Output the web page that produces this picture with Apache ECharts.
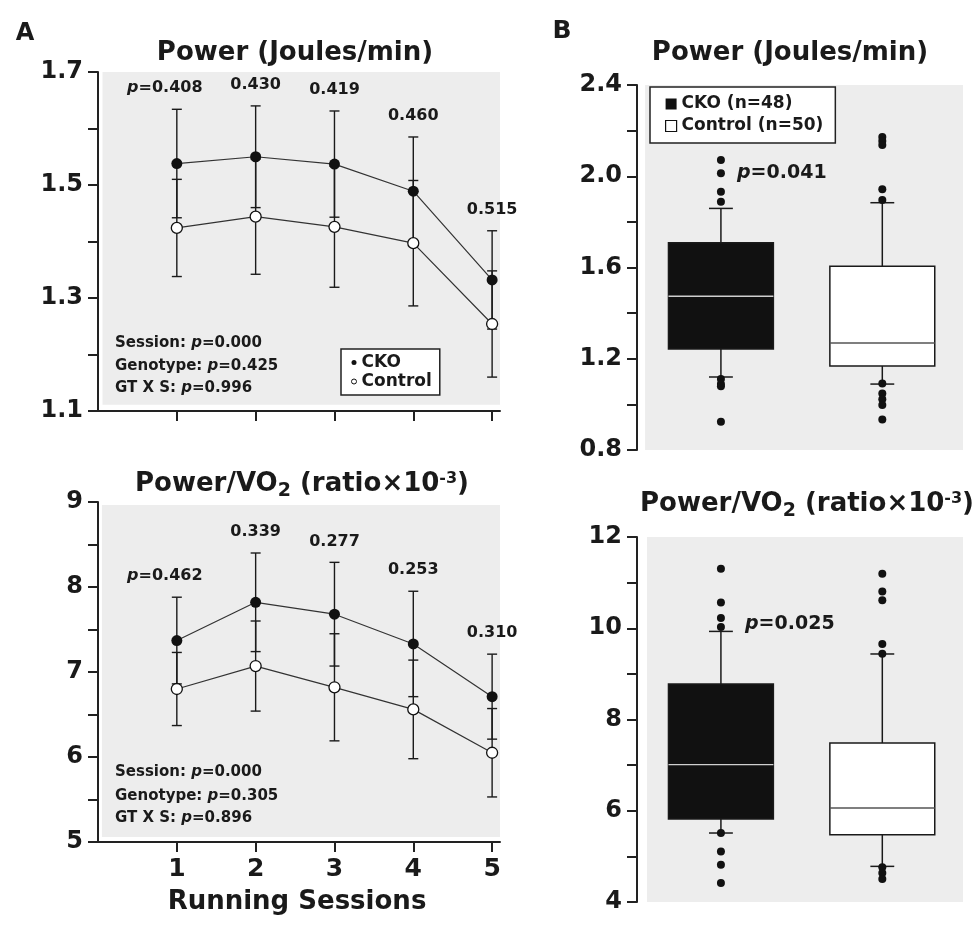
<!DOCTYPE html>
<html>
<head>
<meta charset="utf-8">
<script src="https://cdn.jsdelivr.net/npm/echarts@6/dist/echarts.min.js"></script>
<style>
  html, body { margin: 0; background: #fff; }
  #chart { width: 975px; height: 929px; }
</style>
</head>
<body>
<div id="chart"></div>
<script>
// ---- panel A data (mean and error per running session) ----
var sessions = [1, 2, 3, 4, 5];
var powerCko = [1.538, 1.550, 1.537, 1.489, 1.332];
var powerCkoErr = [0.096, 0.090, 0.094, 0.096, 0.087];
var powerCtrl = [1.424, 1.444, 1.426, 1.397, 1.254];
var powerCtrlErr = [0.086, 0.102, 0.107, 0.111, 0.094];
var powerP = ['0.408', '0.430', '0.419', '0.460', '0.515'];
var powerStats = ['Session: {i|p}=0.000', 'Genotype: {i|p}=0.425', 'GT X S: {i|p}=0.996'];

var ratioCko = [7.37, 7.82, 7.68, 7.33, 6.71];
var ratioCkoErr = [0.51, 0.58, 0.61, 0.62, 0.50];
var ratioCtrl = [6.80, 7.07, 6.82, 6.56, 6.05];
var ratioCtrlErr = [0.43, 0.53, 0.63, 0.58, 0.52];
var ratioP = ['0.462', '0.339', '0.277', '0.253', '0.310'];
var ratioStats = ['Session: {i|p}=0.000', 'Genotype: {i|p}=0.305', 'GT X S: {i|p}=0.896'];

// ---- panel B data: [low whisker, q1, median, q3, high whisker] ----
var boxPowerCko = [1.120, 1.243, 1.474, 1.709, 1.859];
var boxPowerCtrl = [1.089, 1.168, 1.269, 1.605, 1.884];
var outPowerCko = [2.071, 2.013, 1.932, 1.888, 1.111, 1.089, 1.080, 0.924];
var outPowerCtrl = [2.172, 2.154, 2.137, 1.943, 1.896, 1.092, 1.048, 1.022, 0.997, 0.934];
var boxRatioCko = [5.512, 5.819, 7.010, 8.778, 9.931];
var boxRatioCtrl = [4.781, 5.475, 6.060, 7.485, 9.436];
var outRatioCko = [11.305, 10.567, 10.224, 10.027, 5.51, 5.109, 4.818, 4.416];
var outRatioCtrl = [11.196, 10.808, 10.611, 9.655, 9.44, 4.759, 4.636, 4.504];

// ---- tick values and labels ----
var powerTicks = [1.1, 1.2, 1.3, 1.4, 1.5, 1.6, 1.7];
var powerLabels = [1.1, 1.3, 1.5, 1.7];
var ratioTicks = [5, 5.5, 6, 6.5, 7, 7.5, 8, 8.5, 9];
var ratioLabels = [5, 6, 7, 8, 9];
var boxPowerTicks = [0.8, 1.0, 1.2, 1.4, 1.6, 1.8, 2.0, 2.2, 2.4];
var boxPowerLabels = [0.8, 1.2, 1.6, 2.0, 2.4];
var boxRatioTicks = [4, 5, 6, 7, 8, 9, 10, 11, 12];
var boxRatioLabels = [4, 6, 8, 10, 12];

var FONT = '"DejaVu Sans"';
var INK = '#1a1a1a';
var GRAY = '#ededed';

function bold(size) { return 'bold ' + size + 'px ' + FONT; }
function italic(size) { return 'italic bold ' + size + 'px ' + FONT; }

function yAxisOf(grid, min, max, ticks, labels, digits) {
  return {
    type: 'value', gridIndex: grid, min: min, max: max,
    axisLine: { show: true, onZero: false, lineStyle: { color: '#222', width: 2 } },
    axisTick: { show: true, length: 10, customValues: ticks, lineStyle: { color: '#222', width: 2 } },
    axisLabel: {
      customValues: labels, margin: 15, color: INK,
      fontFamily: FONT, fontWeight: 'bold', fontSize: 24,
      formatter: function (v) { return v.toFixed(digits); }
    },
    splitLine: { show: false }
  };
}

function xAxisOf(grid, showLabels) {
  return {
    type: 'value', gridIndex: grid, min: 0, max: 5.1,
    axisLine: { show: true, onZero: false, lineStyle: { color: '#222', width: 2 } },
    axisTick: { show: true, length: 10, customValues: sessions, lineStyle: { color: '#222', width: 2 } },
    axisLabel: {
      show: showLabels, customValues: sessions, margin: 15, color: INK,
      fontFamily: FONT, fontWeight: 'bold', fontSize: 25
    },
    splitLine: { show: false }
  };
}

function grayArea(x0, y0, x1, y1) {
  return {
    silent: true,
    label: { show: false },
    itemStyle: { color: GRAY },
    data: [[{ xAxis: x0, yAxis: y0 }, { xAxis: x1, yAxis: y1 }]]
  };
}

function lineSeries(name, grid, values, filled, area) {
  var s = {
    name: name, type: 'line', xAxisIndex: grid, yAxisIndex: grid, z: 4,
    data: sessions.map(function (x, i) { return [x, values[i]]; }),
    symbol: 'circle', symbolSize: 11,
    lineStyle: { color: '#333', width: 1.2 },
    itemStyle: filled ? { color: '#111' } : { color: '#fff', borderColor: '#111', borderWidth: 1.3 }
  };
  if (area) s.markArea = area;
  return s;
}

function errorSeries(grid, values, errs, pLabels) {
  return {
    type: 'custom', xAxisIndex: grid, yAxisIndex: grid, z: 3, silent: true,
    encode: { x: 0, y: [1, 2] },
    data: sessions.map(function (x, i) { return [x, values[i] - errs[i], values[i] + errs[i]]; }),
    renderItem: function (params, api) {
      var x = api.value(0);
      var lo = api.coord([x, api.value(1)]);
      var hi = api.coord([x, api.value(2)]);
      var cap = 5;
      function seg(x1, y1, x2, y2) {
        return { type: 'line', shape: { x1: x1, y1: y1, x2: x2, y2: y2 }, style: { stroke: INK, lineWidth: 1.4 } };
      }
      var kids = [
        seg(lo[0], lo[1], hi[0], hi[1]),
        seg(lo[0] - cap, lo[1], lo[0] + cap, lo[1]),
        seg(hi[0] - cap, hi[1], hi[0] + cap, hi[1])
      ];
      if (pLabels) {
        var i = params.dataIndex;
        kids.push({
          type: 'text',
          style: {
            text: i === 0 ? '{i|p}=' + pLabels[i] : pLabels[i],
            x: hi[0] - (i === 0 ? 12 : 0), y: hi[1] - 21,
            align: 'center', verticalAlign: 'middle',
            font: bold(16), fill: INK,
            rich: { i: { font: italic(16), fill: INK } }
          }
        });
      }
      return { type: 'group', children: kids };
    }
  };
}

function boxSeries(name, grid, x, stats, fill, medianColor) {
  return {
    name: name, type: 'custom', xAxisIndex: grid, yAxisIndex: grid, z: 2, silent: true,
    encode: { x: 0, y: [1, 2, 3, 4, 5] },
    itemStyle: { color: fill },
    data: [[x].concat(stats)],
    renderItem: function (params, api) {
      var cx = api.value(0);
      var lo = api.coord([cx, api.value(1)]);
      var q1 = api.coord([cx, api.value(2)]);
      var md = api.coord([cx, api.value(3)]);
      var q3 = api.coord([cx, api.value(4)]);
      var hi = api.coord([cx, api.value(5)]);
      var hw = api.size([0.325, 0])[0];
      var cw = api.size([0.074, 0])[0];
      function seg(x1, y1, x2, y2, color, w) {
        return { type: 'line', shape: { x1: x1, y1: y1, x2: x2, y2: y2 }, style: { stroke: color, lineWidth: w } };
      }
      return {
        type: 'group',
        children: [
          seg(q3[0], q3[1], hi[0], hi[1], INK, 1.5),
          seg(q1[0], q1[1], lo[0], lo[1], INK, 1.5),
          seg(hi[0] - cw, hi[1], hi[0] + cw, hi[1], INK, 1.5),
          seg(lo[0] - cw, lo[1], lo[0] + cw, lo[1], INK, 1.5),
          {
            type: 'rect',
            shape: { x: q3[0] - hw, y: q3[1], width: hw * 2, height: q1[1] - q3[1] },
            style: { fill: fill, stroke: INK, lineWidth: 1.5 }
          },
          seg(md[0] - hw, md[1], md[0] + hw, md[1], medianColor, 1.3)
        ]
      };
    }
  };
}

function outlierSeries(grid, x, values, area) {
  var s = {
    type: 'scatter', xAxisIndex: grid, yAxisIndex: grid, z: 4, silent: true,
    symbolSize: 8, itemStyle: { color: '#111', opacity: 1 },
    data: values.map(function (v) { return [x, v]; })
  };
  if (area) s.markArea = area;
  return s;
}

function label(text, x, y, size, align) {
  return {
    type: 'text', x: x, y: y, z: 100, silent: true,
    style: {
      text: text, align: align || 'center', verticalAlign: 'middle',
      font: bold(size), fill: INK,
      rich: { i: { font: italic(size), fill: INK } }
    }
  };
}

function ratioTitle(x, y) {
  return {
    type: 'text', x: x, y: y, z: 100, silent: true,
    style: {
      text: 'Power/VO{sub|2} (ratio×10{sup|-3})',
      align: 'center', verticalAlign: 'middle',
      font: bold(26), fill: INK,
      rich: {
        sub: { font: bold(19), fill: INK, padding: [15, 0, 0, 0] },
        sup: { font: bold(16), fill: INK, padding: [0, 0, 11, 0] }
      }
    }
  };
}

var texts = [
  label('A', 25, 34, 24),
  label('B', 562, 31, 25),
  label('Power (Joules/min)', 295, 53, 26),
  label('Power (Joules/min)', 790, 53, 26),
  ratioTitle(302, 484),
  ratioTitle(807, 504),
  label('Running Sessions', 297, 902, 26),
  label('{i|p}=0.041', 737, 173, 19, 'left'),
  label('{i|p}=0.025', 745, 624, 19, 'left')
];
[343, 366, 388].forEach(function (y, i) { texts.push(label(powerStats[i], 115, y, 15, 'left')); });
[772, 796, 818].forEach(function (y, i) { texts.push(label(ratioStats[i], 115, y, 15, 'left')); });

var option = {
  animation: false,
  backgroundColor: '#fff',
  grid: [
    { left: 98, top: 72, width: 402, height: 339 },
    { left: 98, top: 502, width: 402, height: 340 },
    { left: 637, top: 85, width: 326, height: 365 },
    { left: 637, top: 537, width: 326, height: 365 }
  ],
  xAxis: [
    xAxisOf(0, false),
    xAxisOf(1, true),
    { type: 'value', gridIndex: 2, min: 0.48, max: 2.5, show: false, splitLine: { show: false } },
    { type: 'value', gridIndex: 3, min: 0.48, max: 2.5, show: false, splitLine: { show: false } }
  ],
  yAxis: [
    yAxisOf(0, 1.1, 1.7, powerTicks, powerLabels, 1),
    yAxisOf(1, 5, 9, ratioTicks, ratioLabels, 0),
    yAxisOf(2, 0.8, 2.4, boxPowerTicks, boxPowerLabels, 1),
    yAxisOf(3, 4, 12, boxRatioTicks, boxRatioLabels, 0)
  ],
  legend: [
    {
      left: 341, top: 349, orient: 'vertical', selectedMode: false, z: 50,
      backgroundColor: '#fff', borderColor: '#222', borderWidth: 1.5,
      padding: [4, 8, 4, 10], itemGap: 0, itemWidth: 5, itemHeight: 5,
      textStyle: { fontFamily: FONT, fontWeight: 'bold', fontSize: 17, color: INK, lineHeight: 19 },
      data: [
        { name: 'CKO', icon: 'circle', itemStyle: { color: '#111', borderWidth: 0 } },
        { name: 'Control', icon: 'circle', itemStyle: { color: '#fff', borderColor: '#111', borderWidth: 1 } }
      ]
    },
    {
      left: 650, top: 87, orient: 'vertical', selectedMode: false, z: 50,
      backgroundColor: '#fff', borderColor: '#222', borderWidth: 1.5,
      padding: [6, 12, 6, 15], itemGap: 0, itemWidth: 11, itemHeight: 11,
      textStyle: { fontFamily: FONT, fontWeight: 'bold', fontSize: 17, color: INK, lineHeight: 22 },
      data: [
        { name: 'CKO (n=48)', icon: 'rect', itemStyle: { color: '#111', borderWidth: 0 } },
        { name: 'Control (n=50)', icon: 'rect', itemStyle: { color: '#fff', borderColor: '#111', borderWidth: 1.2 } }
      ]
    }
  ],
  graphic: { elements: texts },
  series: [
    lineSeries('CKO', 0, powerCko, true, grayArea(0.057, 1.111, 5.1, 1.7)),
    lineSeries('Control', 0, powerCtrl, false),
    errorSeries(0, powerCko, powerCkoErr, powerP),
    errorSeries(0, powerCtrl, powerCtrlErr, null),

    lineSeries('CKO', 1, ratioCko, true, grayArea(0.05, 5.06, 5.1, 8.965)),
    lineSeries('Control', 1, ratioCtrl, false),
    errorSeries(1, ratioCko, ratioCkoErr, ratioP),
    errorSeries(1, ratioCtrl, ratioCtrlErr, null),

    boxSeries('CKO (n=48)', 2, 1, boxPowerCko, '#111', '#cfcfcf'),
    boxSeries('Control (n=50)', 2, 2, boxPowerCtrl, '#fff', '#555'),
    outlierSeries(2, 1, outPowerCko, grayArea(0.53, 0.8, 2.5, 2.4)),
    outlierSeries(2, 2, outPowerCtrl),

    boxSeries('CKO ratio', 3, 1, boxRatioCko, '#111', '#cfcfcf'),
    boxSeries('Control ratio', 3, 2, boxRatioCtrl, '#fff', '#555'),
    outlierSeries(3, 1, outRatioCko, grayArea(0.542, 4, 2.5, 12)),
    outlierSeries(3, 2, outRatioCtrl)
  ]
};

var myChart = echarts.init(document.getElementById('chart'));
myChart.setOption(option);
</script>
</body>
</html>
